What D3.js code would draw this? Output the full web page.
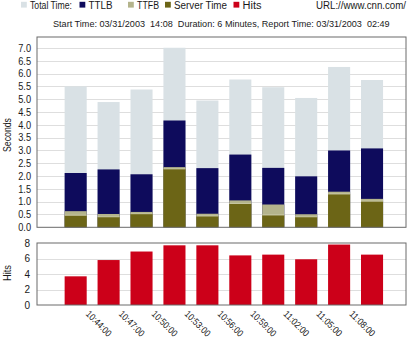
<!DOCTYPE html>
<html><head><meta charset="utf-8">
<script src="https://cdn.jsdelivr.net/npm/d3@7"></script>
<style>
html,body{margin:0;padding:0;background:#fff;}
svg{display:block;}
text{font-family:"Liberation Sans",Arial,sans-serif;fill:#1a1a1a;}
</style></head>
<body>
<svg id="c" width="410" height="344"></svg>
<script>
// ---- data ----
const times = ["10:41:00","10:44:00","10:47:00","10:50:00","10:53:00","10:56:00","10:59:00","11:02:00","11:05:00","11:08:00"];
const tickLabels = ["10:44:00","10:47:00","10:50:00","10:53:00","10:56:00","10:59:00","11:02:00","11:05:00","11:08:00"];
const totalTime  = [5.50, 4.89, 5.38, 7.01, 4.95, 5.77, 5.47, 5.05, 6.26, 5.75];
const ttlb       = [2.12, 2.26, 2.07, 4.17, 2.31, 2.84, 2.32, 1.99, 3.00, 3.08];
const ttfb       = [0.63, 0.52, 0.60, 2.35, 0.53, 1.05, 0.89, 0.51, 1.39, 1.11];
const serverTime = [0.47, 0.41, 0.53, 2.28, 0.44, 0.93, 0.48, 0.41, 1.30, 1.02];
const hits       = [3.7, 5.8, 6.9, 7.7, 7.7, 6.4, 6.5, 5.9, 7.8, 6.5];
const secTicks = [0,0.5,1,1.5,2,2.5,3,3.5,4,4.5,5,5.5,6,6.5,7];
const hitTicks = [0,2,4,6,8];
const legendItems = ["Total Time:","TTLB","TTFB","Server Time","Hits"];
const colors = {total:"#d9e1e5", ttlb:"#0e0b5c", ttfb:"#b4b48c", server:"#6c6516", hits:"#cc0019"};
const urlText = "URL://www.cnn.com/";
const subtitle = "Start Time: 03/31/2003  14:08  Duration: 6 Minutes, Report Time: 03/31/2003  02:49";

const svg = d3.select("#c");
const L = 37, R = 406;
const top1 = 37, bot1 = 227.3, top2 = 243, bot2 = 305;

const x = d3.scaleBand().domain(times).range([59.2, 388.5]).paddingInner(0.33).paddingOuter(0.165);
const y1 = d3.scaleLinear().domain([0, 7.43]).range([bot1, top1]);
const y2 = d3.scaleLinear().domain([0, 8]).range([bot2, top2]);

// ---- legend ----
const legColors = [colors.total, colors.ttlb, colors.ttfb, colors.server, colors.hits];
const legX = [21, 79.5, 128, 165, 233.5];
const legW = [42, 24, 22, 53, 19];
const lg = svg.append("g");
legendItems.forEach((t,i)=>{
  lg.append("rect").attr("x",legX[i]).attr("y",1.8).attr("width",5.8).attr("height",5.8).attr("fill",legColors[i]);
  lg.append("text").attr("x",legX[i]+9).attr("y",9.2).attr("font-size",10)
    .attr("textLength",legW[i]).attr("lengthAdjust","spacingAndGlyphs").text(t);
});
svg.append("text").attr("x",316).attr("y",9.2).attr("font-size",10)
  .attr("textLength",90).attr("lengthAdjust","spacingAndGlyphs").text(urlText);
svg.append("text").attr("x",53).attr("y",26.5).attr("font-size",9.1).style("white-space","pre")
  .text(subtitle);

// ---- top plot ----
const g1 = svg.append("g");
g1.selectAll("line.grid").data(secTicks.filter(d=>d>0)).join("line")
  .attr("x1",L).attr("x2",R).attr("y1",d=>Math.round(y1(d))+0.5).attr("y2",d=>Math.round(y1(d))+0.5)
  .attr("stroke","#dedede").attr("stroke-width",1);
const layers = [[totalTime,colors.total],[ttlb,colors.ttlb],[ttfb,colors.ttfb],[serverTime,colors.server]];
layers.forEach(([vals,col])=>{
  g1.append("g").selectAll("rect").data(vals).join("rect")
    .attr("x",(d,i)=>x(times[i])).attr("width",x.bandwidth())
    .attr("y",d=>y1(d)).attr("height",d=>y1(0)-y1(d)).attr("fill",col);
});
g1.append("g").selectAll("line").data(serverTime).join("line")
  .attr("x1",(d,i)=>x(times[i])).attr("x2",(d,i)=>x(times[i])+x.bandwidth())
  .attr("y1",d=>y1(d)).attr("y2",d=>y1(d)).attr("stroke","#d6d6b8").attr("stroke-width",0.8);
g1.append("rect").attr("x",L).attr("y",top1).attr("width",R-L).attr("height",bot1-top1)
  .attr("fill","none").attr("stroke","#6a6a6a").attr("stroke-width",1);
const ax1 = d3.axisLeft(y1).tickValues(secTicks).tickFormat(d3.format(".1f")).tickSize(0).tickPadding(6);
g1.append("g").attr("transform",`translate(${L},0)`).call(ax1)
  .call(g=>g.select(".domain").remove())
  .call(g=>g.selectAll("text").attr("font-size",10).attr("font-family",null)
    .attr("textLength",12.8).attr("lengthAdjust","spacingAndGlyphs").style("fill","#1a1a1a"));
svg.append("text").attr("transform",`translate(11,135) rotate(-90)`).attr("text-anchor","middle").attr("font-size",10.5)
  .attr("textLength",34).attr("lengthAdjust","spacingAndGlyphs").text("Seconds");

// ---- bottom plot ----
const g2 = svg.append("g");
g2.selectAll("line.grid").data(hitTicks.filter(d=>d>0&&d<8)).join("line")
  .attr("x1",L).attr("x2",R).attr("y1",d=>Math.round(y2(d))+0.5).attr("y2",d=>Math.round(y2(d))+0.5)
  .attr("stroke","#dedede");
g2.append("g").selectAll("rect").data(hits).join("rect")
  .attr("x",(d,i)=>x(times[i])).attr("width",x.bandwidth())
  .attr("y",d=>y2(d)).attr("height",d=>y2(0)-y2(d)).attr("fill",colors.hits);
g2.append("rect").attr("x",L).attr("y",top2).attr("width",R-L).attr("height",bot2-top2)
  .attr("fill","none").attr("stroke","#6a6a6a").attr("stroke-width",1);
const ax2 = d3.axisLeft(y2).tickValues(hitTicks).tickFormat(d3.format("d")).tickSize(0).tickPadding(7);
g2.append("g").attr("transform",`translate(${L},0)`).call(ax2)
  .call(g=>g.select(".domain").remove())
  .call(g=>g.selectAll("text").attr("font-size",10).attr("font-family",null).style("fill","#1a1a1a"));
svg.append("text").attr("transform",`translate(11,273) rotate(-90)`).attr("text-anchor","middle").attr("font-size",10.5)
  .attr("textLength",16).attr("lengthAdjust","spacingAndGlyphs").text("Hits");

// x tick labels
svg.append("g").selectAll("text").data(tickLabels).join("text")
  .attr("transform",(d,i)=>`translate(${x(times[i])+x.bandwidth()-1.5},${314.5}) rotate(45)`)
  .attr("font-size",9.5).attr("textLength",32).attr("lengthAdjust","spacingAndGlyphs").text(d=>d);
</script>
</body></html>
